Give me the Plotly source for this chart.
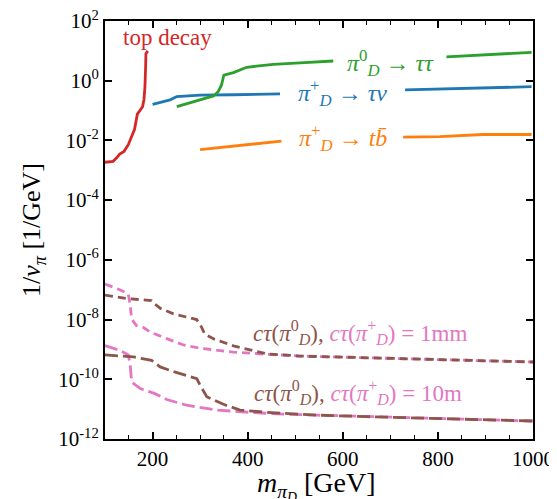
import plotly.graph_objects as go

# ---- data ----
top_m = [100, 117, 124, 131, 140, 149, 156, 162, 168, 172, 179, 182, 184, 185.5, 186, 190]
top_v = [1.86e-3, 2.0e-3, 2.57e-3, 3.5e-3, 4.3e-3, 7.2e-3, 1.35e-2, 2.3e-2, 7.6e-2, 9.5e-2,
         0.135, 0.24, 0.63, 3.2, 8.1, 10.0]

taunu_m = [200, 237, 251, 300, 370, 468, None, 731, 850, 997]
taunu_v = [0.162, 0.229, 0.295, 0.331, 0.339, 0.363, None, 0.49, 0.55, 0.63]

tautau_m = [251, 300, 328, 338, 345, 350, 370, 398, 454, 510, 580, None, 818, 997]
tautau_v = [0.135, 0.229, 0.309, 0.427, 0.724, 1.55, 1.86, 2.82, 3.55, 3.98, 4.57, None, 6.31, 8.91]

tb_m = [300, 471, None, 727, 804, 895, 997]
tb_v = [4.9e-3, 9.5e-3, None, 1.29e-2, 1.35e-2, 1.58e-2, 1.58e-2]

pc_1mm_m = [100, 131, 149, 153, 156, 166, 181, 195, 230, 265, 300, 370, 440, 510, 600, 755, 1000]
pc_1mm_v = [1.55e-7, 1.0e-7, 7.2e-8, 2.95e-8, 1.05e-8, 6.3e-9, 5.4e-9, 3.8e-9, 2.3e-9, 1.41e-9,
            1.1e-9, 8.1e-10, 6.9e-10, 6.0e-10, 5.5e-10, 4.7e-10, 3.8e-10]

p0_1mm_m = [100, 146, 198, 205, 216, 244, 293, 303, 310, 330, 370, 440, 510, 600, 755, 1000]
p0_1mm_v = [6.6e-8, 5.1e-8, 4.3e-8, 3.3e-8, 2.4e-8, 1.55e-8, 1.0e-8, 5.6e-9, 3.2e-9, 2.2e-9,
            1.32e-9, 7.1e-10, 6.0e-10, 5.5e-10, 4.7e-10, 3.8e-10]

pc_10m_m = [100, 131, 149, 153, 156, 174, 205, 230, 272, 335, 405, 475, 545, 650, 800, 1000]
pc_10m_v = [1.35e-9, 9.3e-10, 6.6e-10, 2.95e-10, 8.1e-11, 4.9e-11, 3.3e-11, 2.1e-11, 1.35e-11,
            9.3e-12, 7.8e-12, 6.8e-12, 6.3e-12, 5.6e-12, 4.8e-12, 4.0e-12]

p0_10m_m = [100, 160, 198, 216, 244, 293, 300, 314, 349, 384, 440, 545, 650, 800, 1000]
p0_10m_v = [6.6e-10, 5.6e-10, 4.3e-10, 2.6e-10, 1.8e-10, 1.05e-10, 6.3e-11, 2.6e-11, 1.45e-11,
            9.3e-12, 7.8e-12, 6.3e-12, 5.6e-12, 4.8e-12, 4.0e-12]

y_tick_exp = [2, 0, -2, -4, -6, -8, -10, -12]
x_tick_vals = [200, 400, 600, 800, 1000]

# ---- colours ----
BLUE, ORANGE, GREEN, RED, BROWN, PINK = "#1f77b4", "#ff7f0e", "#2ca02c", "#d62728", "#8c564b", "#e377c2"
FONT = "Liberation Serif"

fig = go.Figure()

def line(x, y, color, dash="solid", width=2.8):
    fig.add_trace(go.Scatter(x=x, y=y, mode="lines", line=dict(color=color, width=width, dash=dash),
                             showlegend=False, hoverinfo="skip"))

line(pc_1mm_m, pc_1mm_v, PINK, "8px,5px")
line(p0_1mm_m, p0_1mm_v, BROWN, "8px,5px")
line(pc_10m_m, pc_10m_v, PINK, "13px,5px")
line(p0_10m_m, p0_10m_v, BROWN, "13px,5px")
line(tb_m, tb_v, ORANGE)
line(taunu_m, taunu_v, BLUE)
line(tautau_m, tautau_v, GREEN)
line(top_m, top_v, RED)

ann = [
    dict(x=232, y=1.45, text="top decay", color=RED, size=23),
    dict(x=700, y=0.60, text="<i>π</i><sup>0</sup><sub><i>D</i></sub> → <i>ττ</i>", color=GREEN, size=24),
    dict(x=600, y=-0.40, text="<i>π</i><sup>+</sup><sub><i>D</i></sub> → <i>τν</i>", color=BLUE, size=24),
    dict(x=600, y=-1.92, text="<i>π</i><sup>+</sup><sub><i>D</i></sub> → <i>t</i><i>b̄</i>", color=ORANGE, size=24),
    dict(x=636, y=-8.42,
         text='<span style="color:%s"><i>cτ</i>(<i>π</i><sup>0</sup><sub><i>D</i></sub>),</span> '
              '<i>cτ</i>(<i>π</i><sup>+</sup><sub><i>D</i></sub>) = 1mm' % BROWN, color=PINK, size=23),
    dict(x=632, y=-10.45,
         text='<span style="color:%s"><i>cτ</i>(<i>π</i><sup>0</sup><sub><i>D</i></sub>),</span> '
              '<i>cτ</i>(<i>π</i><sup>+</sup><sub><i>D</i></sub>) = 10m' % BROWN, color=PINK, size=23),
]
for a in ann:
    fig.add_annotation(x=a["x"], y=a["y"], xref="x", yref="y", text=a["text"], showarrow=False,
                       font=dict(family=FONT, size=a["size"], color=a["color"]),
                       xanchor="center", yanchor="middle")

# x-axis title as a paper annotation so it can sit low like in the reference
fig.add_annotation(x=0.495, y=-0.112, xref="paper", yref="paper",
                   text="<i>m</i><sub><i>π</i><sub><i>D</i></sub></sub> [GeV]", showarrow=False,
                   font=dict(family=FONT, size=28, color="black"), xanchor="center", yanchor="middle")

axis_common = dict(showline=True, linecolor="black", linewidth=2, mirror="ticks",
                   ticks="inside", tickcolor="black", tickwidth=1.6, ticklen=7,
                   showgrid=False, zeroline=False, automargin=False,
                   ticklabeloverflow="allow",
                   tickfont=dict(family=FONT, size=21, color="black"))

fig.update_xaxes(range=[100, 1000], tickvals=x_tick_vals,
                 minor=dict(dtick=50, ticks="inside", ticklen=4, tickcolor="black", tickwidth=1.4, showgrid=False),
                 **axis_common)
fig.update_yaxes(type="log", range=[-12, 2],
                 tickvals=[10.0 ** e for e in y_tick_exp],
                 ticktext=["10<sup>%d</sup>" % e for e in y_tick_exp],
                 title=dict(text="1/<i>v</i><sub><i>π</i></sub> [1/GeV]",
                            font=dict(family=FONT, size=26, color="black"), standoff=10),
                 **axis_common)

# the page adds an 8px body margin, so the figure is drawn 8px smaller with margins shifted
fig.update_layout(width=549, height=491, margin=dict(l=97, r=24, t=13, b=60),
                  plot_bgcolor="white", paper_bgcolor="white",
                  font=dict(family=FONT, color="black"))

fig.write_html("out.html")
